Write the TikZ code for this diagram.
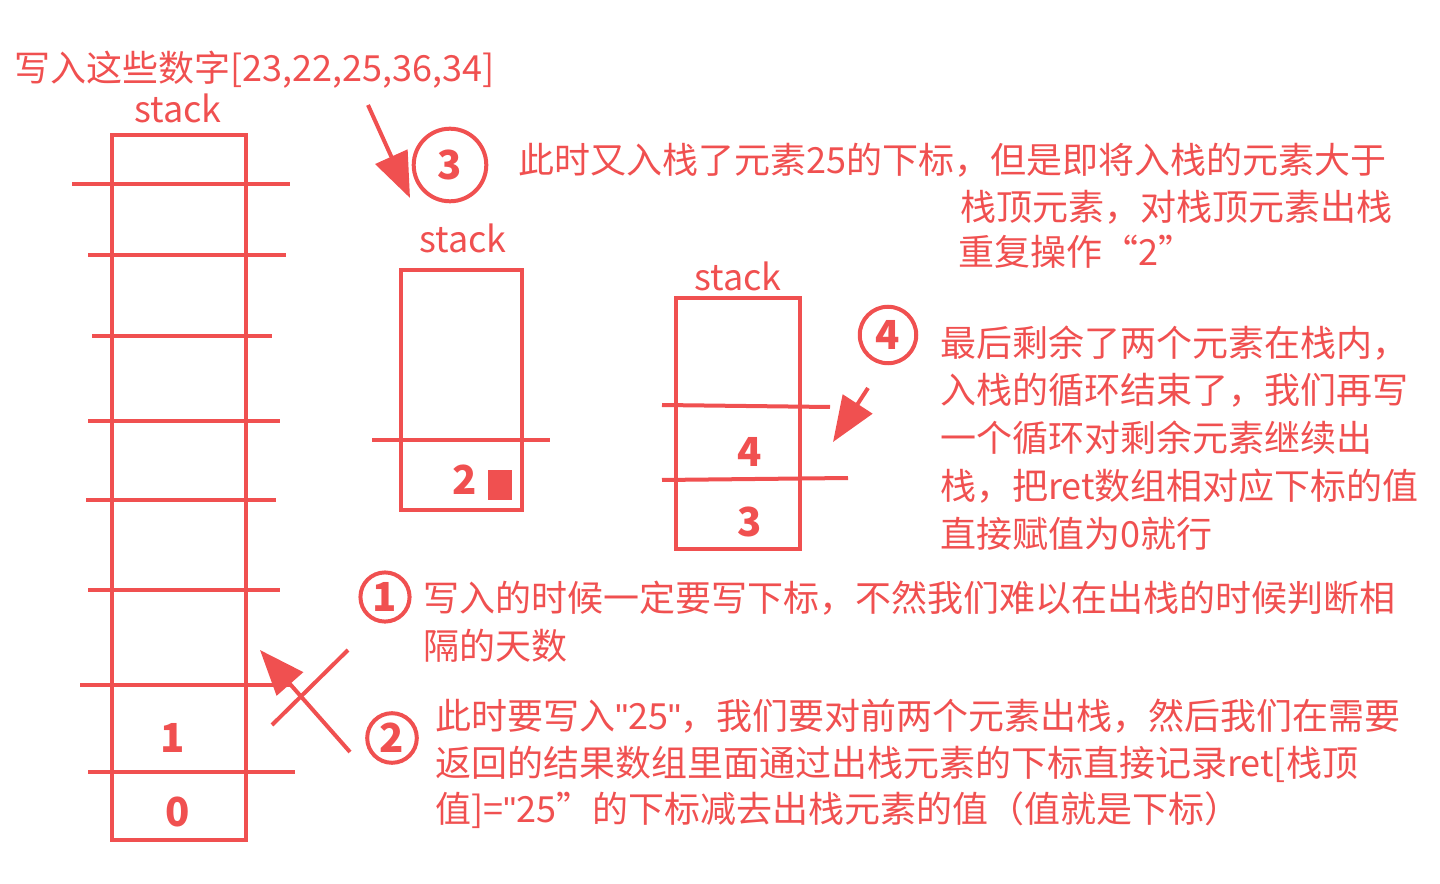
\documentclass[tikz,border=0pt]{standalone}
\usepackage{fontspec}
\setmainfont{Noto Sans CJK SC}
\newfontfamily\latinfont{Liberation Sans}
\usepackage{tikz}
\usetikzlibrary{arrows.meta,calc}
\definecolor{pen}{RGB}{240,80,80}
\newcommand{\dq}{{\latinfont\char"22}}
\tikzset{
  ink/.style={draw=pen,line width=3pt},
  txt/.style={text=pen,anchor=west,inner sep=0pt,font=\fontsize{27}{30}\selectfont},
  lbl/.style={text=pen,inner sep=0pt,font=\fontsize{30}{32}\selectfont\bfseries},
  num/.style={circle,draw=pen,line width=3pt,text=pen,inner sep=3pt,font=\fontsize{30}{32}\selectfont\bfseries},
  big/.style={ink,-{Triangle[length=34pt,width=26pt]}}
}
\begin{document}
\begin{tikzpicture}[x=0.75pt,y=0.75pt,yscale=-1,xscale=1]
\useasboundingbox (0,0) rectangle (1440,884);
% title
\node[txt] (title) at (14,70) {写入这些数字[23,22,25,36,34]};
\node[txt,anchor=center] (s1) at (178,108) {stack};
% big stack
\draw[ink] (112,135) rectangle (246,840);
\foreach \y/\a/\b in {184/72/290,255/88/286,336/92/272,421/88/280,500/86/276,590/88/280,685/80/290,772/88/295}
  \draw[ink] (\a,\y) -- (\b,\y);
\node[lbl] (one) at (173,738) {1};
\node[lbl] (zero) at (178,812) {0};
\coordinate (xa) at (348,650);
\coordinate (xb) at (272,725);
\coordinate (xc) at (350,752);
\coordinate (xd) at (260,650);
\draw[ink] (xa) -- (xb);
\draw[big] (xc) -- (xd);
% middle stack
\node[txt,anchor=center] (s2) at (463,238) {stack};
\draw[ink] (401,270) rectangle (522,510);
\draw[ink] (372,440) -- (550,440);
\node[lbl] (two) at (465,480) {2};
\fill[pen] (488,470) rectangle (512,500);
% right stack
\node[txt,anchor=center] (s3) at (738,276) {stack};
\draw[ink] (676,298) rectangle (800,549);
\draw[ink] (662,405) -- (830,407);
\draw[ink] (662,480) -- (848,478);
\node[lbl] (four) at (750,452) {4};
\node[lbl] (three) at (750,522) {3};
% circled numbers
\node[num,inner sep=9pt] (c3) at (450,165) {3};
\node[num,inner sep=5pt] (c4) at (888,335) {4};
\node[num] (c1) at (385,597) {1};
\node[num] (c2) at (392,738) {2};
\coordinate (a3) at (368,105);
\coordinate (b3) at (410,198);
\draw[big] (a3) -- (b3);
\coordinate (a4) at (868,388);
\coordinate (b4) at (833,442);
\draw[big] (a4) -- (b4);
% texts
\node[txt] (t3a) at (518,160) {此时又入栈了元素25的下标，但是即将入栈的元素大于};
\node[txt] (t3b) at (960,207) {栈顶元素，对栈顶元素出栈};
\node[txt] (t3c) at (958,252) {重复操作“2”};
\node[txt] (t4a) at (940,343) {最后剩余了两个元素在栈内，};
\node[txt] (t4b) at (940,390) {入栈的循环结束了，我们再写};
\node[txt] (t4c) at (940,438) {一个循环对剩余元素继续出};
\node[txt] (t4d) at (940,486) {栈，把ret数组相对应下标的值};
\node[txt] (t4e) at (940,534) {直接赋值为0就行};
\node[txt] (t1a) at (423,598) {写入的时候一定要写下标，不然我们难以在出栈的时候判断相};
\node[txt] (t1b) at (423,646) {隔的天数};
\node[txt] (t2a) at (435,716) {此时要写入\dq25\dq，我们要对前两个元素出栈，然后我们在需要};
\node[txt] (t2b) at (435,764) {返回的结果数组里面通过出栈元素的下标直接记录ret[栈顶};
\node[txt] (t2c) at (435,810) {值]=\dq25”的下标减去出栈元素的值（值就是下标）};
\end{tikzpicture}
\end{document}
